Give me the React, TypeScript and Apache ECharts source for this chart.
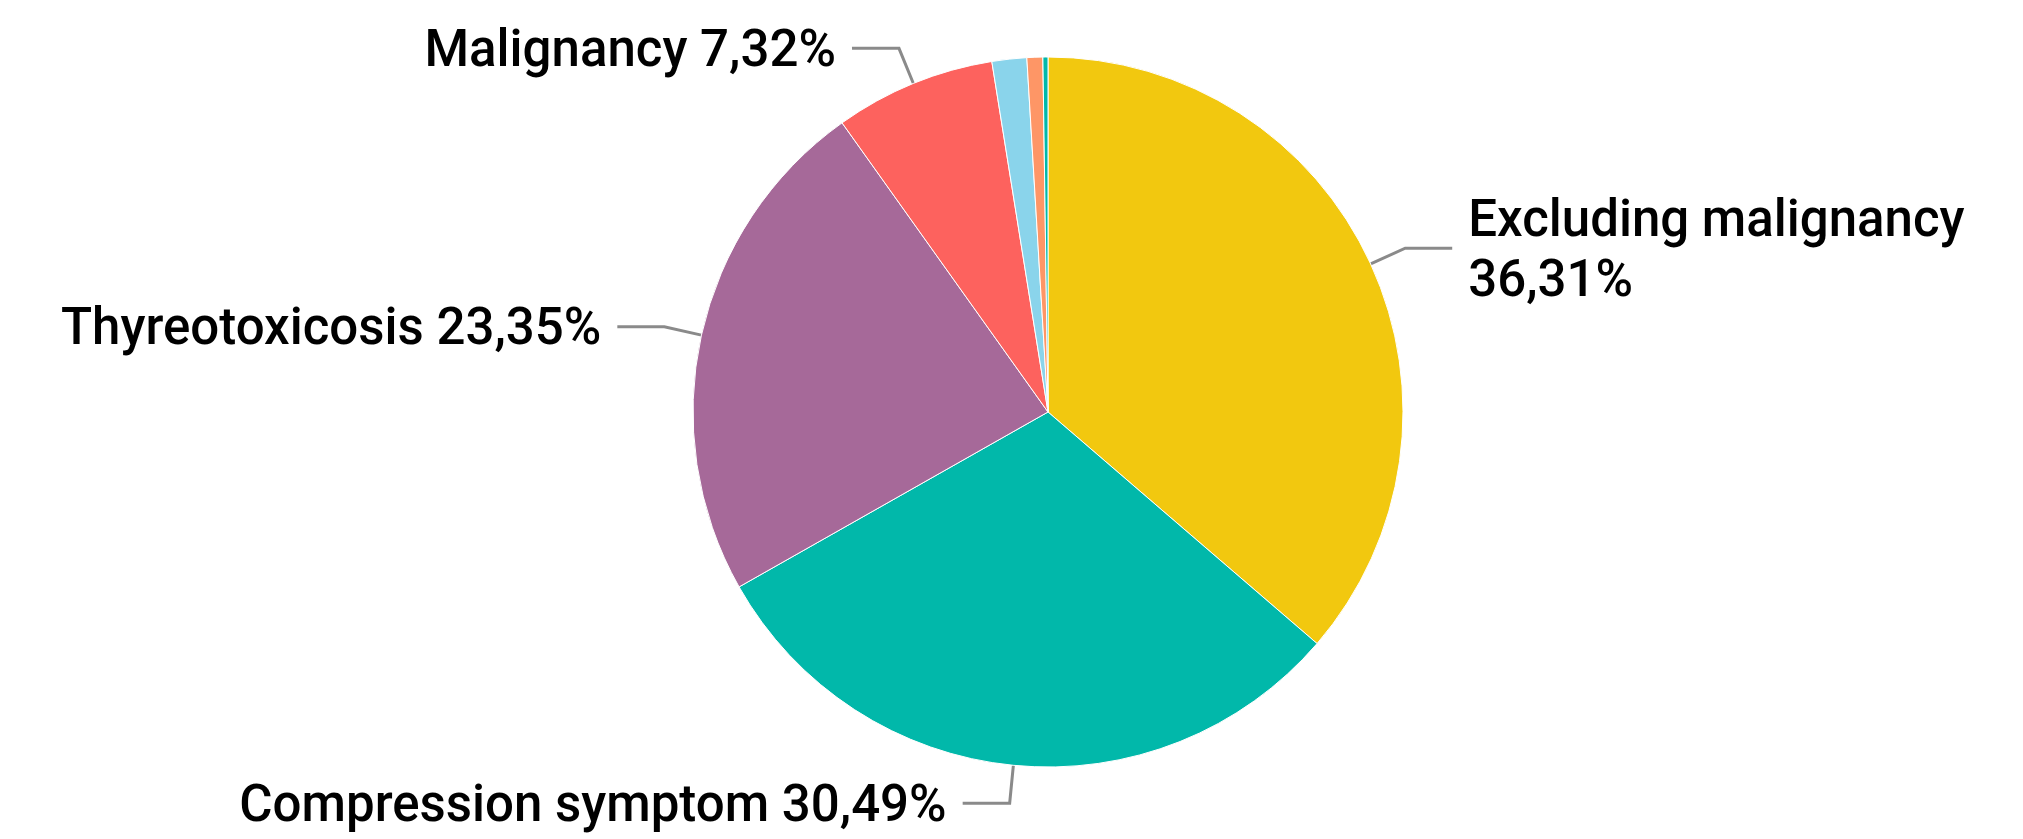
import React, { useEffect, useRef } from "react";
import * as echarts from "echarts";

const categories = [
  "Excluding malignancy",
  "Compression symptom",
  "Thyreotoxicosis",
  "Malignancy",
  "Other A",
  "Other B",
  "Other C",
];
const values = [36.31, 30.49, 23.35, 7.32, 1.58, 0.72, 0.23];
const colors = ["#F2C80F", "#01B8AA", "#A66999", "#FD625E", "#8AD4EB", "#FE9666", "#01B8AA"];
const shownLabels = [true, true, true, true, false, false, false];
const wrapLabel = [true, false, false, false, false, false, false];

const fmt = (v: number) => v.toFixed(2).replace(".", ",") + "%";

export default function App() {
  const ref = useRef<HTMLDivElement>(null);
  useEffect(() => {
    document.body.style.margin = "0";
    const chart = echarts.init(ref.current!, null, { renderer: "svg" });
    chart.setOption({
      animation: false,
      backgroundColor: "#ffffff",
      series: [
        {
          type: "pie",
          center: [1048, 412],
          radius: 355,
          startAngle: 90,
          clockwise: true,
          avoidLabelOverlap: false,
          itemStyle: { borderColor: "#ffffff", borderWidth: 1 },
          label: {
            show: true,
            position: "outside",
            color: "#000000",
            fontSize: 51,
            fontWeight: 500,
            fontFamily: "Roboto, 'Noto Sans', sans-serif",
            lineHeight: 60,
            distanceToLabelLine: 16,
            formatter: (p: any) =>
              p.name + (wrapLabel[p.dataIndex] ? "\n" : " ") + fmt(p.value),
          },
          labelLine: {
            show: true,
            length: 38,
            length2: 47,
            lineStyle: { color: "#8a8a8a", width: 3 },
          },
          data: categories.map((name, i) => ({
            name,
            value: values[i],
            itemStyle: { color: colors[i] },
            label: { show: shownLabels[i] },
            labelLine: { show: shownLabels[i] },
          })),
        },
      ],
    });
    return () => chart.dispose();
  }, []);
  return <div ref={ref} style={{ width: 2023, height: 839 }} />;
}
